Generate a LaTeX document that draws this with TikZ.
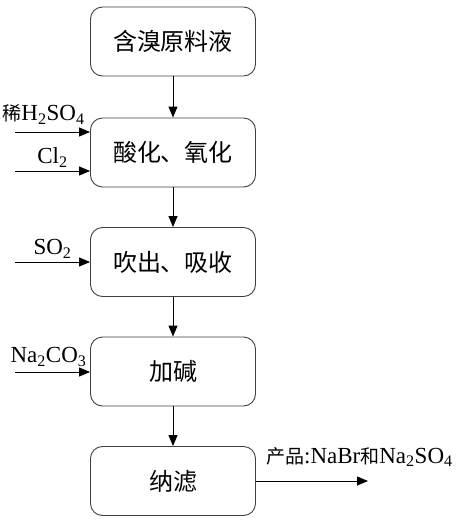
\documentclass[tikz,border=0pt]{standalone}
\usepackage{fontspec}
\setmainfont{Liberation Serif}
\newfontfamily\cjk{Noto Sans CJK SC}
\usetikzlibrary{arrows.meta}
\tikzset{>={Triangle[width=9pt,length=11pt]}}

\begin{document}
\begin{tikzpicture}[x=1pt, y=1pt,
  stepbox/.style={draw=black!75, line width=0.9pt, rounded corners=12pt,
    minimum width=165pt, minimum height=69pt, inner sep=0pt,
    font=\cjk\fontsize{24}{26}\selectfont},
  feed/.style={font=\fontsize{23}{25}\selectfont, inner sep=3pt}]

\newcommand\BX{173}
\newcommand\INX{15}
\newcommand\zh[1]{{\cjk\fontsize{19}{21}\selectfont #1}}

\useasboundingbox (0,0) rectangle (474,-523);

%% process steps
\node[stepbox] (raw)  at (\BX, -41.5) {含溴原料液};
\node[stepbox] (acid) at (\BX,-152.5) {酸化、氧化};
\node[stepbox] (blow) at (\BX,-262)   {吹出、吸收};
\node[stepbox] (base) at (\BX,-371.5) {加碱};
\node[stepbox] (nano) at (\BX,-481)   {纳滤};

\draw[->, line width=0.9pt] (raw)  -- (acid);
\draw[->, line width=0.9pt] (acid) -- (blow);
\draw[->, line width=0.9pt] (blow) -- (base);
\draw[->, line width=0.9pt] (base) -- (nano);

%% feeds
\coordinate (h2so4) at (\INX,-132);
\coordinate (cl2)   at (\INX,-171);
\coordinate (so2)   at (\INX,-262);
\coordinate (na2co3) at (\INX,-372);

\draw[->, line width=0.9pt] (h2so4) -- (acid.west|-h2so4)
  node[feed, midway, above, xshift=-9pt, yshift=4pt]{\zh{稀}H\textsubscript{2}SO\textsubscript{4}};
\draw[->, line width=0.9pt] (cl2) -- (acid.west|-cl2)
  node[feed, midway, above]{Cl\textsubscript{2}};
\draw[->, line width=0.9pt] (so2) -- (blow.west|-so2)
  node[feed, midway, above]{SO\textsubscript{2}};
\draw[->, line width=0.9pt] (na2co3) -- (base.west|-na2co3)
  node[feed, midway, above, xshift=-4pt, yshift=2pt]{Na\textsubscript{2}CO\textsubscript{3}};

%% product
\coordinate (prod) at (368,-481);
\draw[->, line width=0.9pt] (nano.east) -- (prod);
\node[feed, anchor=south west] (prodlabel) at ([xshift=7pt, yshift=11pt]nano.east)
  {\zh{产品}:NaBr\zh{和}Na\textsubscript{2}SO\textsubscript{4}};
\end{tikzpicture}
\end{document}
